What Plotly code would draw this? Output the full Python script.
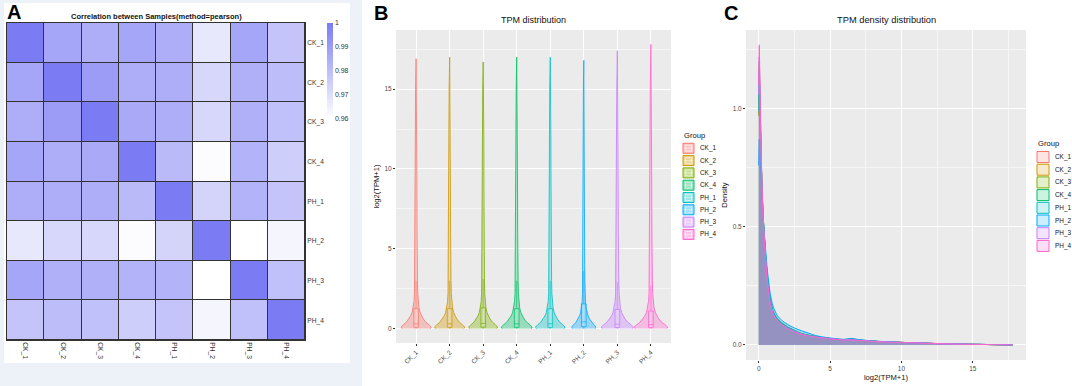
import plotly.graph_objects as go

W, H = 1072, 386
FONT = "Liberation Sans, Arial, sans-serif"

# ---------------- data ----------------
samples = ["CK_1", "CK_2", "CK_3", "CK_4", "PH_1", "PH_2", "PH_3", "PH_4"]
colors = ["#F8766D", "#CD9600", "#7CAE00", "#00BE67", "#00BFC4", "#00A9FF", "#C77CFF", "#FF61CC"]

corr = [
    [1.000, 0.987, 0.985, 0.987, 0.985, 0.967, 0.987, 0.978],
    [0.987, 1.000, 0.990, 0.985, 0.985, 0.972, 0.984, 0.980],
    [0.985, 0.990, 1.000, 0.986, 0.985, 0.972, 0.984, 0.979],
    [0.987, 0.985, 0.986, 1.000, 0.981, 0.961, 0.983, 0.975],
    [0.985, 0.985, 0.985, 0.981, 1.000, 0.973, 0.983, 0.978],
    [0.967, 0.972, 0.972, 0.961, 0.973, 1.000, 0.960, 0.963],
    [0.987, 0.984, 0.984, 0.983, 0.983, 0.960, 1.000, 0.979],
    [0.978, 0.980, 0.979, 0.975, 0.978, 0.963, 0.979, 1.000],
]
cbar_ticks = [0.96, 0.97, 0.98, 0.99, 1.0]
cbar_text = ["0.96", "0.97", "0.98", "0.99", "1"]

# violin outlines
violin_top = [16.9, 17.0, 16.7, 17.0, 17.0, 16.8, 17.4, 17.8]
violin_halfwidth = [0.45, 0.45, 0.43, 0.46, 0.44, 0.36, 0.48, 0.50]
profile_y = [0.0, 0.1, 0.25, 0.4, 0.6, 0.8, 1.0, 1.3, 1.7, 2.2, 3.0, 4.0, 6.0, 9.0, 12.0, 15.0]
profile_w = [0.95, 1.0, 0.84, 0.65, 0.48, 0.36, 0.27, 0.19, 0.14, 0.11, 0.09, 0.075, 0.062, 0.05, 0.042, 0.035]
box_lo = [0.0, 0.0, 0.0, 0.0, 0.0, 0.0, 0.0, 0.0]
box_q1 = [0.08, 0.08, 0.09, 0.08, 0.08, 0.12, 0.07, 0.06]
box_med = [0.30, 0.30, 0.33, 0.30, 0.30, 0.42, 0.28, 0.25]
box_q3 = [1.25, 1.25, 1.30, 1.25, 1.25, 1.55, 1.20, 1.10]
box_hi = [3.0, 3.0, 3.1, 3.0, 3.0, 3.6, 2.9, 2.7]
b_yticks = [0, 5, 10, 15]

# density curves
dens_x = [0, 0.04, 0.1, 0.2, 0.3, 0.45, 0.6, 0.8, 1.0, 1.3, 1.6, 2.0, 2.5, 3.0, 3.5, 4.0, 4.5,
          5.0, 5.5, 6.0, 6.5, 7.0, 8.0, 9.0, 10.0, 11.0, 12.0, 13.0, 14.0, 15.0, 16.0, 17.0, 17.8]
dens = {
    "CK_1": [1.02, 1.18, 1.00, 0.74, 0.56, 0.41, 0.29, 0.19, 0.140, 0.108, 0.092, 0.076, 0.060, 0.047, 0.040, 0.035, 0.031,
             0.027, 0.024, 0.022, 0.023, 0.020, 0.016, 0.013, 0.011, 0.009, 0.007, 0.005, 0.004, 0.003, 0.002, 0.001, 0.0],
    "CK_2": [1.00, 1.16, 0.98, 0.73, 0.56, 0.41, 0.29, 0.19, 0.140, 0.110, 0.093, 0.077, 0.061, 0.048, 0.041, 0.036, 0.031,
             0.027, 0.024, 0.023, 0.024, 0.021, 0.016, 0.013, 0.011, 0.009, 0.007, 0.005, 0.004, 0.003, 0.002, 0.001, 0.0],
    "CK_3": [0.97, 1.13, 0.97, 0.73, 0.56, 0.41, 0.30, 0.20, 0.145, 0.112, 0.095, 0.078, 0.062, 0.049, 0.042, 0.036, 0.031,
             0.028, 0.025, 0.023, 0.026, 0.022, 0.017, 0.013, 0.011, 0.009, 0.007, 0.005, 0.004, 0.003, 0.002, 0.001, 0.0],
    "CK_4": [1.04, 1.20, 1.01, 0.74, 0.56, 0.40, 0.29, 0.19, 0.140, 0.108, 0.090, 0.075, 0.060, 0.047, 0.040, 0.034, 0.030,
             0.027, 0.024, 0.022, 0.025, 0.021, 0.016, 0.013, 0.011, 0.009, 0.007, 0.005, 0.004, 0.003, 0.002, 0.001, 0.0],
    "PH_1": [0.99, 1.15, 0.98, 0.73, 0.56, 0.41, 0.30, 0.20, 0.145, 0.110, 0.093, 0.077, 0.061, 0.048, 0.041, 0.035, 0.031,
             0.027, 0.024, 0.022, 0.024, 0.021, 0.016, 0.013, 0.011, 0.009, 0.007, 0.005, 0.004, 0.003, 0.002, 0.001, 0.0],
    "PH_2": [0.76, 0.87, 0.80, 0.66, 0.55, 0.43, 0.32, 0.22, 0.165, 0.125, 0.105, 0.088, 0.072, 0.060, 0.050, 0.040, 0.034,
             0.030, 0.026, 0.024, 0.028, 0.023, 0.017, 0.014, 0.011, 0.009, 0.007, 0.005, 0.004, 0.003, 0.002, 0.001, 0.0],
    "PH_3": [1.06, 1.22, 1.02, 0.74, 0.55, 0.40, 0.28, 0.18, 0.135, 0.105, 0.088, 0.073, 0.058, 0.046, 0.039, 0.034, 0.030,
             0.027, 0.024, 0.021, 0.022, 0.020, 0.016, 0.013, 0.011, 0.009, 0.007, 0.005, 0.004, 0.003, 0.002, 0.001, 0.0],
    "PH_4": [1.10, 1.27, 1.05, 0.75, 0.55, 0.39, 0.27, 0.18, 0.130, 0.102, 0.085, 0.070, 0.056, 0.045, 0.038, 0.033, 0.030,
             0.026, 0.023, 0.021, 0.022, 0.019, 0.015, 0.012, 0.011, 0.009, 0.007, 0.005, 0.004, 0.003, 0.002, 0.001, 0.0],
}
c_xticks = [0, 5, 10, 15]
c_yticks = [0.0, 0.5, 1.0]


def px(x):
    return x / W


def py(y):
    return 1 - y / H


def rgba(hexc, a):
    h = hexc.lstrip("#")
    r, g, b = int(h[0:2], 16), int(h[2:4], 16), int(h[4:6], 16)
    return f"rgba({r},{g},{b},{a})"


fig = go.Figure()

# ---------------- panel A: heatmap ----------------
fig.add_trace(go.Heatmap(
    z=corr, x=samples, y=samples, zmin=0.96, zmax=1.0,
    colorscale=[[0, "#FFFFFF"], [1, "#7B7BF4"]],
    xgap=1, ygap=1, xaxis="x", yaxis="y", hoverinfo="skip",
    colorbar=dict(x=px(327), xanchor="left", y=py(23), yanchor="top",
                  len=96, lenmode="pixels", thickness=6, outlinewidth=0,
                  xpad=0, ypad=0, ticks="", tickvals=cbar_ticks, ticktext=cbar_text,
                  tickfont=dict(size=7, color="#333333", family=FONT)),
))

# ---------------- panel B: violins ----------------
for i, s in enumerate(samples):
    hw = violin_halfwidth[i]
    right_x = [i + hw * w for w in profile_w]
    left_x = [i - hw * w for w in profile_w]
    xs = right_x + [i] + left_x[::-1]
    ys = profile_y + [violin_top[i]] + profile_y[::-1]
    fig.add_trace(go.Scatter(
        x=xs, y=ys, mode="lines", fill="toself", fillcolor=rgba(colors[i], 0.35),
        line=dict(color=colors[i], width=0.8), xaxis="x2", yaxis="y2",
        showlegend=False, hoverinfo="skip"))
    fig.add_trace(go.Box(
        x=[i], q1=[box_q1[i]], median=[box_med[i]], q3=[box_q3[i]],
        lowerfence=[box_lo[i]], upperfence=[box_hi[i]], width=0.14, whiskerwidth=0,
        boxpoints=False, line=dict(color=colors[i], width=0.7),
        fillcolor="rgba(255,255,255,0.3)", xaxis="x2", yaxis="y2",
        showlegend=False, hoverinfo="skip"))

# ---------------- panel C: densities ----------------
for i, s in enumerate(samples):
    fig.add_trace(go.Scatter(
        x=dens_x, y=dens[s], mode="lines", fill="tozeroy",
        fillcolor=rgba(colors[i], 0.28), line=dict(color=colors[i], width=1, shape="spline", smoothing=0.6),
        xaxis="x3", yaxis="y3", showlegend=False, hoverinfo="skip"))

shapes = []
annotations = []

# panel A background
shapes.append(dict(type="rect", xref="paper", yref="paper", x0=0, x1=px(362), y0=0, y1=1,
                   fillcolor="#EDF1F8", line=dict(width=0), layer="below"))
shapes.append(dict(type="rect", xref="paper", yref="paper", x0=px(4), x1=px(350), y0=py(363), y1=py(3),
                   fillcolor="#FFFFFF", line=dict(width=0), layer="below"))
# grid colour under heatmap gaps
shapes.append(dict(type="rect", xref="x domain", yref="y domain", x0=0, x1=1, y0=0, y1=1,
                   fillcolor="#333333", line=dict(width=0), layer="below"))

# panel letters
for letter, lx, ly in [("A", 5, 12), ("B", 372, 13), ("C", 722, 13)]:
    annotations.append(dict(text=f"<b>{letter}</b>", xref="paper", yref="paper", x=px(lx), y=py(ly),
                            xanchor="left", yanchor="middle", showarrow=False,
                            font=dict(size=20, color="#000000", family=FONT)))

# titles
annotations.append(dict(text="<b>Correlation between Samples(method=pearson)</b>", xref="paper", yref="paper",
                        x=px(156), y=py(16), xanchor="center", yanchor="middle", showarrow=False,
                        font=dict(size=7.5, color="#111111", family=FONT)))
annotations.append(dict(text="TPM distribution", xref="paper", yref="paper",
                        x=px(533.5), y=py(20), xanchor="center", yanchor="middle", showarrow=False,
                        font=dict(size=9, color="#111111", family=FONT)))
annotations.append(dict(text="TPM density distribution", xref="paper", yref="paper",
                        x=px(886), y=py(20), xanchor="center", yanchor="middle", showarrow=False,
                        font=dict(size=9.3, color="#111111", family=FONT)))

# manual legends (ggplot style)
def legend_block(x_icon, y_title, y_first, step, w_icon, h_icon, alpha, boxed):
    annotations.append(dict(text="Group", xref="paper", yref="paper", x=px(x_icon - 1), y=py(y_title),
                            xanchor="left", yanchor="middle", showarrow=False,
                            font=dict(size=7.6, color="#111111", family=FONT)))
    for i, s in enumerate(samples):
        cy = y_first + i * step
        shapes.append(dict(type="rect", xref="paper", yref="paper",
                           x0=px(x_icon), x1=px(x_icon + w_icon), y0=py(cy + h_icon / 2), y1=py(cy - h_icon / 2),
                           fillcolor=rgba(colors[i], alpha), line=dict(color=colors[i], width=1)))
        if boxed:
            shapes.append(dict(type="rect", xref="paper", yref="paper",
                               x0=px(x_icon + 2.5), x1=px(x_icon + w_icon - 2.5),
                               y0=py(cy + 3), y1=py(cy - 3),
                               fillcolor="rgba(255,255,255,0)", line=dict(color="rgba(255,255,255,0.8)", width=0.6)))
            shapes.append(dict(type="line", xref="paper", yref="paper",
                               x0=px(x_icon + 1), x1=px(x_icon + w_icon - 1), y0=py(cy), y1=py(cy),
                               line=dict(color="rgba(255,255,255,0.8)", width=0.6)))
        annotations.append(dict(text=s, xref="paper", yref="paper", x=px(x_icon + w_icon + 4), y=py(cy),
                                xanchor="left", yanchor="middle", showarrow=False,
                                font=dict(size=6.4, color="#111111", family=FONT)))


legend_block(683, 135, 148.3, 12.3, 11, 10, 0.4, True)
legend_block(1037, 143, 157, 12.7, 12, 11, 0.2, False)

tickfont = dict(size=6.5, color="#4D4D4D", family=FONT)
titlefont = dict(size=7.6, color="#111111", family=FONT)

fig.update_layout(
    width=W, height=H, autosize=False,
    margin=dict(l=0, r=0, t=0, b=0),
    paper_bgcolor="#FFFFFF", plot_bgcolor="#EBEBEB",
    font=dict(family=FONT),
    showlegend=False,
    shapes=shapes, annotations=annotations,
    xaxis=dict(domain=[px(7), px(305)], anchor="y", type="category", categoryorder="array",
               categoryarray=samples, tickangle=90, showgrid=False, zeroline=False,
               showline=True, mirror=True, linecolor="#333333", linewidth=1, ticks="",
               tickfont=dict(size=6.6, color="#333333", family=FONT)),
    yaxis=dict(domain=[py(340), py(23)], anchor="x", type="category", categoryorder="array",
               categoryarray=samples, autorange="reversed", side="right", showgrid=False, zeroline=False,
               showline=True, mirror=True, linecolor="#333333", linewidth=1, ticks="",
               tickfont=dict(size=6.6, color="#333333", family=FONT)),
    xaxis2=dict(domain=[px(396), px(671)], anchor="y2", range=[-0.6, 7.6],
                tickvals=list(range(len(samples))), ticktext=samples, tickangle=-45,
                showgrid=True, gridcolor="#FFFFFF", gridwidth=1, zeroline=False,
                ticks="outside", ticklen=2, tickcolor="#333333", tickfont=tickfont),
    yaxis2=dict(domain=[py(343), py(30)], anchor="x2", range=[-0.9, 18.7],
                tickvals=b_yticks, showgrid=True, gridcolor="#FFFFFF", gridwidth=1, zeroline=False,
                minor=dict(tick0=2.5, dtick=5, showgrid=True, gridcolor="#F6F6F6", gridwidth=0.5, ticks=""),
                ticks="outside", ticklen=2, tickcolor="#333333", tickfont=tickfont,
                title=dict(text="log2(TPM+1)", font=titlefont, standoff=3)),
    xaxis3=dict(domain=[px(746), px(1026)], anchor="y3", range=[-0.89, 18.73],
                tickvals=c_xticks, showgrid=True, gridcolor="#FFFFFF", gridwidth=1, zeroline=False,
                minor=dict(tick0=2.5, dtick=5, showgrid=True, gridcolor="#F6F6F6", gridwidth=0.5, ticks=""),
                ticks="outside", ticklen=2, tickcolor="#333333", tickfont=tickfont,
                title=dict(text="log2(TPM+1)", font=titlefont, standoff=3)),
    yaxis3=dict(domain=[py(360), py(30)], anchor="x3", range=[-0.0635, 1.333],
                tickvals=c_yticks, tickformat=".1f", showgrid=True, gridcolor="#FFFFFF", gridwidth=1,
                zeroline=False,
                minor=dict(tick0=0.25, dtick=0.5, showgrid=True, gridcolor="#F6F6F6", gridwidth=0.5, ticks=""),
                ticks="outside", ticklen=2, tickcolor="#333333", tickfont=tickfont,
                title=dict(text="Density", font=titlefont, standoff=3)),
)

fig.write_html("out.html", config={"displayModeBar": False},
               post_script="document.body.style.margin='0';document.body.style.overflow='hidden';")
